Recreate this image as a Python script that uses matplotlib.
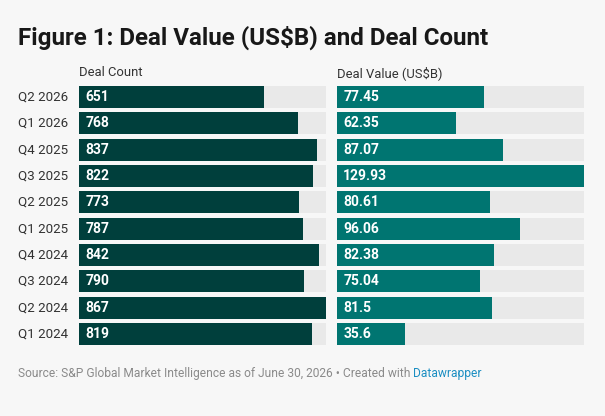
import matplotlib
matplotlib.use("Agg")
import matplotlib.pyplot as plt
from matplotlib.transforms import blended_transform_factory

quarters = ["Q2 2026", "Q1 2026", "Q4 2025", "Q3 2025", "Q2 2025",
            "Q1 2025", "Q4 2024", "Q3 2024", "Q2 2024", "Q1 2024"]
deal_count = [651, 768, 837, 822, 773, 787, 842, 790, 867, 819]
deal_value = [77.45, 62.35, 87.07, 129.93, 80.61, 96.06, 82.38, 75.04, 81.5, 35.6]
value_labels = ["77.45", "62.35", "87.07", "129.93", "80.61", "96.06", "82.38", "75.04", "81.5", "35.6"]

plt.rcParams['font.family'] = ['Roboto', 'DejaVu Sans']

W, H = 605, 416
bg = "#f7f7f7"
fig = plt.figure(figsize=(W / 100, H / 100), dpi=100, facecolor=bg)

top_px, bot_px = 86, 345
def axes_at(x0, x1):
    return fig.add_axes([x0 / W, 1 - bot_px / H, (x1 - x0) / W, (bot_px - top_px) / H])

bar_h = 0.836
ax1 = axes_at(79, 326)
ax2 = axes_at(337, 584)

n = len(quarters)
pos = list(range(n))
for ax, vals, labels, col, xmax in [
    (ax1, deal_count, [str(v) for v in deal_count], "#003f3c", max(deal_count)),
    (ax2, deal_value, value_labels, "#007571", max(deal_value)),
]:
    ax.set_facecolor("none")
    ax.barh(pos, [xmax] * n, height=bar_h, color="#e9e9e9", linewidth=0)
    ax.barh(pos, vals, height=bar_h, color=col, linewidth=0)
    ax.set_xlim(0, xmax)
    ax.set_ylim(n - 1 + bar_h / 2, -bar_h / 2)
    for p, lab in zip(pos, labels):
        ax.annotate(lab, (0, p), xytext=(4.5, 0), textcoords="offset points",
                    ha="left", va="center", color="white", fontsize=10, fontweight="bold")
    ax.axis("off")

trans = blended_transform_factory(fig.transFigure, ax1.transData)
for p, q in zip(pos, quarters):
    ax1.text(68 / W, p, q, transform=trans, ha="right", va="center",
             fontsize=9.6, color="#333333")

fig.text(18 / W, 1 - 38 / H, "Figure 1: Deal Value (US$B) and Deal Count",
         fontsize=17.4, fontweight="bold", color="#181818", ha="left", va="center")
fig.text(79 / W, 1 - 73 / H, "Deal Count", fontsize=9.4, color="#333333", ha="left", va="center")
fig.text(337 / W, 1 - 73 / H, "Deal Value (US$B)", fontsize=9.4, color="#333333", ha="left", va="center")

src = fig.text(18 / W, 1 - 373 / H, "Source: S&P Global Market Intelligence as of June 30, 2026 • Created with ",
               fontsize=8.65, color="#8a8a8a", ha="left", va="center")
fig.canvas.draw()
bb = src.get_window_extent()
fig.text(bb.x1 / W, 1 - 373 / H, "Datawrapper", fontsize=8.65, color="#1b8ec2", ha="left", va="center")

fig.savefig("out.png", dpi=100, facecolor=bg)
